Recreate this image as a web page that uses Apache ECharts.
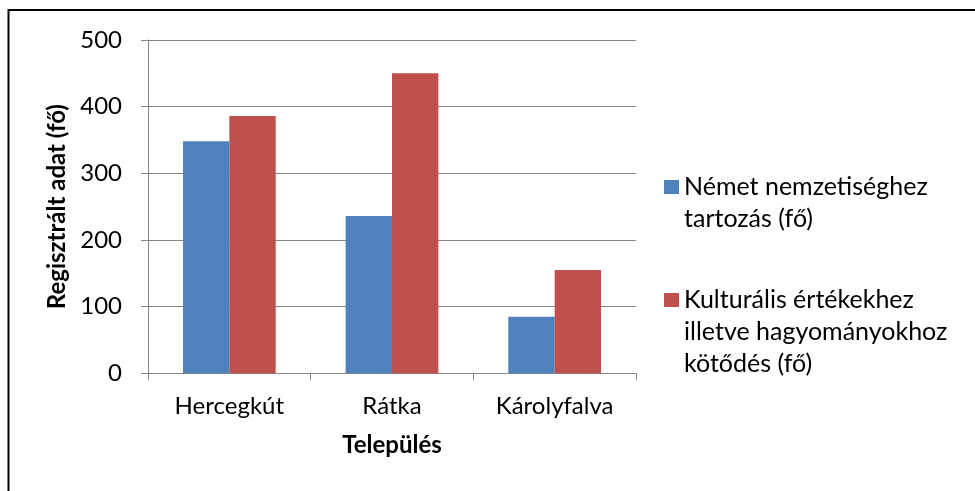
<!DOCTYPE html>
<html>
<head>
<meta charset="utf-8">
<title>Regisztrált adat</title>
<script src="https://cdn.jsdelivr.net/npm/echarts@6/dist/echarts.min.js"></script>
<style>
    html, body { margin: 0; padding: 0; background: #fff; }
    #chart { width: 975px; height: 491px; }
</style>
</head>
<body>
<div id="chart"></div>
<script>
// adatok
var telepulesek = ['Hercegkút', 'Rátka', 'Károlyfalva'];
var nemet = [348, 236, 85];
var kulturalis = [386, 450, 155];
var yTicks = [0, 100, 200, 300, 400, 500];

var nevNemet = 'Német nemzetiséghez\ntartozás (fő)';
var nevKult = 'Kulturális értékekhez\nilletve hagyományokhoz\nkötődés (fő)';

(function() {
    var font = 'Lato';
    var szurke = '#868686';
    var myChart = echarts.init(document.getElementById('chart'));

    // excel-szeru jelmagyarazat: a negyzet az elso sorhoz igazodik
    var legendText = function(name) {
        var n = name.split('\n').length;
        var pre = '';
        for (var i = 1; i < n; i++) pre += '\n';
        return pre + name;
    };
    var legendBase = {
        orient: 'vertical',
        left: 664,
        padding: 0,
        itemWidth: 15,
        itemHeight: 14,
        icon: 'rect',
        selectedMode: false,
        formatter: legendText,
        textStyle: { fontFamily: font, fontSize: 25, lineHeight: 32, color: '#000' }
    };

    var option = {
        animation: false,
        backgroundColor: '#fff',
        graphic: [{
            type: 'rect',
            shape: { x: 8.5, y: 10, width: 1200, height: 1200 },
            style: { fill: 'none', stroke: '#000', lineWidth: 2 },
            silent: true
        }],
        legend: [
            echarts.util.merge({ top: 139, data: [nevNemet] }, legendBase),
            echarts.util.merge({ top: 220, data: [nevKult] }, legendBase)
        ],
        grid: { left: 148, top: 40, width: 488, height: 333.3 },
        xAxis: {
            type: 'category',
            data: telepulesek,
            name: 'Település',
            nameLocation: 'middle',
            nameGap: 60,
            nameTextStyle: { fontFamily: font, fontSize: 24, fontWeight: 'bold', color: '#000' },
            axisLine: { lineStyle: { color: szurke, width: 1 } },
            axisTick: { show: true, length: 7, lineStyle: { color: szurke } },
            axisLabel: { fontFamily: font, fontSize: 24, color: '#000', margin: 21 }
        },
        yAxis: {
            type: 'value',
            min: yTicks[0],
            max: yTicks[yTicks.length - 1],
            interval: yTicks[1] - yTicks[0],
            name: 'Regisztrált adat (fő)',
            nameLocation: 'middle',
            nameGap: 76,
            nameTextStyle: { fontFamily: font, fontSize: 24, fontWeight: 'bold', color: '#000' },
            axisLine: { show: true, lineStyle: { color: szurke, width: 1 } },
            axisTick: { show: true, length: 7, lineStyle: { color: szurke } },
            axisLabel: { fontFamily: font, fontSize: 24, color: '#000', margin: 26 },
            splitLine: { lineStyle: { color: szurke, width: 1 } }
        },
        series: [{
            name: nevNemet,
            type: 'bar',
            data: nemet,
            barGap: '0%',
            barCategoryGap: '43%',
            itemStyle: { color: '#4F81BD' }
        }, {
            name: nevKult,
            type: 'bar',
            data: kulturalis,
            itemStyle: { color: '#C0504D' }
        }]
    };
    myChart.setOption(option);
})();
</script>
</body>
</html>
